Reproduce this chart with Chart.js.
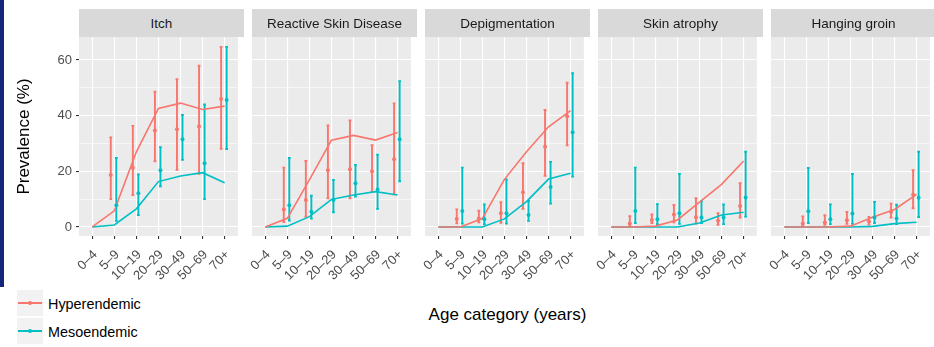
<!DOCTYPE html>
<html>
<head>
<meta charset="utf-8">
<script src="https://cdn.jsdelivr.net/npm/chart.js@4.4.1/dist/chart.umd.min.js"></script>
<style>
  html, body { margin: 0; padding: 0; }
  body { width: 934px; height: 347px; background: #ffffff; position: relative; overflow: hidden;
         font-family: "Liberation Sans", Arial, sans-serif; }
  .edge { position: absolute; left: 0; top: 0; width: 4px; height: 287px; background: #15257a; }
  .strip { position: absolute; top: 9px; height: 28px; width: 165px; background: #d9d9d9; color: #1a1a1a;
           font-size: 13.5px; display: flex; align-items: center; justify-content: center; white-space: nowrap; }
  canvas { position: absolute; top: 0; }
  .xtitle { position: absolute; left: 79px; width: 857px; top: 305px; text-align: center; font-size: 17px; color: #000; }
  .lkey { position: absolute; left: 17px; width: 26px; height: 26px; background: #f2f2f2; }
  .lkey .ln { position: absolute; left: 1px; right: 1px; top: 12.3px; height: 1.6px; }
  .lkey .dt { position: absolute; left: 11.3px; top: 11.3px; width: 3.8px; height: 3.8px; border-radius: 50%; }
  .ltext { position: absolute; left: 48px; font-size: 14.4px; color: #000; }
</style>
</head>
<body>
<div class="edge"></div>
<div id="wrap"></div>
<div class="xtitle">Age category (years)</div>
<div class="lkey" style="top:290px"><div class="ln" style="background:#F8766D"></div><div class="dt" style="background:#F8766D"></div></div>
<div class="ltext" style="top:296px">Hyperendemic</div>
<div class="lkey" style="top:318px"><div class="ln" style="background:#00BFC4"></div><div class="dt" style="background:#00BFC4"></div></div>
<div class="ltext" style="top:324px">Mesoendemic</div>
<script>
// ---------- DATA ----------
const categories = ['0–4', '5–9', '10–19', '20–29', '30–49', '50–69', '70+'];
const panelTitles = ['Itch', 'Reactive Skin Disease', 'Depigmentation', 'Skin atrophy', 'Hanging groin'];
const seriesNames = ['Hyperendemic', 'Mesoendemic'];
const yTickValues = [0, 20, 40, 60];

// Itch
const itchHyperFit = [0, 5.8, 27.0, 42.6, 44.5, 42.2, 43.4];
const itchMesoFit  = [0, 0.7, 6.5, 16.3, 18.3, 19.5, 15.9];
const itchHyperObs = [null, 18.7, 21.3, 34.7, 35.1, 36.1, 46.0];
const itchHyperLo  = [null, 10.0, 11.5, 23.6, 20.5, 19.1, 28.1];
const itchHyperHi  = [null, 32.2, 36.3, 48.6, 53.1, 57.9, 64.7];
const itchMesoObs  = [null, 7.8, 12.1, 20.4, 31.5, 22.9, 45.6];
const itchMesoLo   = [null, 2.2, 4.3, 14.6, 24.1, 10.0, 28.0];
const itchMesoHi   = [null, 24.8, 18.9, 28.7, 40.2, 44.0, 64.7];

// Reactive Skin Disease
const rsdHyperFit = [0, 3.1, 16.9, 31.2, 32.9, 31.2, 33.9];
const rsdMesoFit  = [0, 0.3, 3.7, 9.9, 11.5, 12.7, 11.5];
const rsdHyperObs = [null, 6.3, 9.7, 20.4, 20.7, 20.0, 24.3];
const rsdHyperLo  = [null, 1.8, 3.7, 10.3, 10.3, 12.7, 11.7];
const rsdHyperHi  = [null, 21.3, 23.7, 36.5, 38.3, 29.4, 44.4];
const rsdMesoObs  = [null, 7.8, 5.5, 9.7, 15.7, 13.5, 31.5];
const rsdMesoLo   = [null, 2.3, 3.0, 5.3, 10.9, 6.5, 16.4];
const rsdMesoHi   = [null, 24.8, 11.2, 16.9, 22.3, 26.0, 52.4];

// Depigmentation
const depHyperFit = [0, 0, 3.0, 17.1, 27.0, 36.0, 41.8];
const depMesoFit  = [0, 0, 0, 2.9, 9.1, 17.2, 19.3];
const depHyperObs = [null, 2.9, 3.0, 4.9, 12.5, 28.8, 39.8];
const depHyperLo  = [null, 1.3, 1.7, 1.5, 6.5, 18.4, 29.3];
const depHyperHi  = [null, 6.3, 5.8, 8.9, 22.9, 42.0, 51.8];
const depMesoObs  = [null, 5.7, 2.8, 4.9, 4.3, 14.4, 34.0];
const depMesoLo   = [null, 1.2, 1.0, 1.2, 2.2, 8.4, 18.1];
const depMesoHi   = [null, 21.3, 8.1, 17.1, 9.3, 23.4, 55.2];

// Skin atrophy
const atrHyperFit = [0, 0, 0.3, 2.5, 8.9, 15.3, 23.7];
const atrMesoFit  = [0, 0, 0, 0, 1.4, 4.3, 5.3];
const atrHyperObs = [null, 1.2, 2.5, 4.5, 3.5, 2.2, 7.5];
const atrHyperLo  = [null, 0.4, 1.4, 1.7, 1.2, 0.8, 3.4];
const atrHyperHi  = [null, 3.9, 4.5, 7.9, 10.3, 4.9, 15.7];
const atrMesoObs  = [null, 5.7, 2.8, 4.9, 3.4, 3.4, 10.6];
const atrMesoLo   = [null, 1.4, 1.0, 1.1, 1.4, 1.0, 3.7];
const atrMesoHi   = [null, 21.3, 8.2, 19.0, 9.3, 8.1, 27.0];

// Hanging groin
const hgHyperFit = [0, 0, 0, 0.3, 3.5, 6.3, 11.7];
const hgMesoFit  = [0, 0, 0, 0, 0.2, 1.2, 1.7];
const hgHyperObs = [null, 1.2, 1.6, 2.4, 2.0, 5.4, 11.6];
const hgHyperLo  = [null, 0.4, 0.8, 1.1, 0.9, 3.4, 6.7];
const hgHyperHi  = [null, 3.8, 4.2, 5.4, 3.6, 8.4, 20.4];
const hgMesoObs  = [null, 5.6, 2.8, 4.8, 3.4, 3.0, 10.5];
const hgMesoLo   = [null, 1.4, 1.0, 1.1, 1.4, 1.0, 3.6];
const hgMesoHi   = [null, 21.2, 8.1, 19.0, 9.0, 8.0, 27.0];

// ---------- TABLE BUILT FROM THE ARRAYS ----------
const panels = [
  { title: panelTitles[0], hyperFit: itchHyperFit, mesoFit: itchMesoFit, hyperObs: itchHyperObs, hyperLo: itchHyperLo, hyperHi: itchHyperHi, mesoObs: itchMesoObs, mesoLo: itchMesoLo, mesoHi: itchMesoHi },
  { title: panelTitles[1], hyperFit: rsdHyperFit, mesoFit: rsdMesoFit, hyperObs: rsdHyperObs, hyperLo: rsdHyperLo, hyperHi: rsdHyperHi, mesoObs: rsdMesoObs, mesoLo: rsdMesoLo, mesoHi: rsdMesoHi },
  { title: panelTitles[2], hyperFit: depHyperFit, mesoFit: depMesoFit, hyperObs: depHyperObs, hyperLo: depHyperLo, hyperHi: depHyperHi, mesoObs: depMesoObs, mesoLo: depMesoLo, mesoHi: depMesoHi },
  { title: panelTitles[3], hyperFit: atrHyperFit, mesoFit: atrMesoFit, hyperObs: atrHyperObs, hyperLo: atrHyperLo, hyperHi: atrHyperHi, mesoObs: atrMesoObs, mesoLo: atrMesoLo, mesoHi: atrMesoHi },
  { title: panelTitles[4], hyperFit: hgHyperFit, mesoFit: hgMesoFit, hyperObs: hgHyperObs, hyperLo: hgHyperLo, hyperHi: hgHyperHi, mesoObs: hgMesoObs, mesoLo: hgMesoLo, mesoHi: hgMesoHi }
];

// ---------- STYLE / LAYOUT ----------
const RED = '#F8766D', CYAN = '#00BFC4';
const PANEL_LEFT0 = 79, PANEL_STEP = 173, PANEL_W = 165;
const TOP = 37, XAXIS_H = 54, CANVAS_H = 290;
const DODGE_HYPER = -0.16, DODGE_MESO = 0.09;

const panelBg = {
  id: 'panelBg',
  beforeDraw(chart) {
    const a = chart.chartArea, ctx = chart.ctx;
    ctx.save(); ctx.fillStyle = '#EBEBEB';
    ctx.fillRect(a.left, a.top, a.right - a.left, a.bottom - a.top);
    ctx.restore();
  }
};
const errorBars = {
  id: 'errorBars',
  beforeDatasetsDraw(chart) {
    const ctx = chart.ctx, xs = chart.scales.x, ys = chart.scales.y;
    chart.data.datasets.forEach(ds => {
      if (!ds.errLo) return;
      ctx.save();
      ctx.strokeStyle = ds.borderColor; ctx.lineWidth = 1.9; ctx.lineCap = 'butt';
      ds.data.forEach((p, i) => {
        if (p.y == null) return;
        const px = xs.getPixelForValue(p.x);
        const lo = ys.getPixelForValue(ds.errLo[i]), hi = ys.getPixelForValue(ds.errHi[i]);
        ctx.beginPath();
        ctx.moveTo(px, lo); ctx.lineTo(px, hi);
        ctx.moveTo(px - 1.4, lo); ctx.lineTo(px + 1.4, lo);
        ctx.moveTo(px - 1.4, hi); ctx.lineTo(px + 1.4, hi);
        ctx.stroke();
      });
      ctx.restore();
    });
  }
};

const wrap = document.getElementById('wrap');
panels.forEach((p, i) => {
  const first = i === 0;
  const plotLeft = PANEL_LEFT0 + PANEL_STEP * i;
  const yW = first ? 79 : 30;
  const canvasLeft = plotLeft - yW;

  const strip = document.createElement('div');
  strip.className = 'strip';
  strip.style.left = plotLeft + 'px';
  strip.textContent = p.title;
  document.body.appendChild(strip);

  const cv = document.createElement('canvas');
  cv.width = yW + PANEL_W; cv.height = CANVAS_H;
  cv.style.left = canvasLeft + 'px';
  cv.style.width = (yW + PANEL_W) + 'px'; cv.style.height = CANVAS_H + 'px';
  wrap.appendChild(cv);

  const fitLine = (arr, color, name) => ({
    type: 'line', label: name, data: arr.map((v, k) => ({ x: k + 1, y: v })),
    borderColor: color, backgroundColor: color, borderWidth: 1.6, pointRadius: 0, tension: 0, fill: false
  });
  const obs = (arr, lo, hi, color, dodge, name) => ({
    type: 'line', label: name + ' observed', showLine: false,
    data: arr.map((v, k) => ({ x: k + 1 + dodge, y: v })),
    errLo: lo, errHi: hi,
    borderColor: color, backgroundColor: color, pointBackgroundColor: color,
    pointBorderWidth: 0, pointRadius: 2
  });

  new Chart(cv, {
    type: 'line',
    data: {
      datasets: [
        obs(p.hyperObs, p.hyperLo, p.hyperHi, RED, DODGE_HYPER, seriesNames[0]),
        obs(p.mesoObs, p.mesoLo, p.mesoHi, CYAN, DODGE_MESO, seriesNames[1]),
        fitLine(p.hyperFit, RED, seriesNames[0]),
        fitLine(p.mesoFit, CYAN, seriesNames[1])
      ]
    },
    options: {
      responsive: false, animation: false, devicePixelRatio: 1,
      layout: { padding: { top: TOP, left: 0, right: 0, bottom: 0 } },
      plugins: { legend: { display: false }, tooltip: { enabled: false }, title: { display: false } },
      scales: {
        x: {
          type: 'linear', min: 0.4, max: 7.6,
          afterBuildTicks: s => { s.ticks = categories.map((c, k) => ({ value: k + 1 })); },
          afterFit: s => { s.height = XAXIS_H; },
          ticks: { autoSkip: false, minRotation: 45, maxRotation: 45, color: '#4d4d4d',
                   font: { size: 13, family: '"Liberation Sans", Arial, sans-serif' }, padding: 8, labelOffset: 3,
                   callback: v => categories[Math.round(v) - 1] },
          grid: { color: '#ffffff', lineWidth: 1.1, tickColor: '#333333', tickLength: 3, tickWidth: 1.1 },
          border: { display: false }
        },
        y: {
          type: 'linear', min: -3.25, max: 68.25,
          afterBuildTicks: s => { s.ticks = [0, 10, 20, 30, 40, 50, 60].map(v => ({ value: v })); },
          afterFit: s => { s.width = yW; },
          ticks: { display: first, color: '#4d4d4d', padding: 4,
                   font: { size: 13, family: '"Liberation Sans", Arial, sans-serif' },
                   callback: v => yTickValues.includes(v) ? String(v) : '' },
          grid: {
            color: '#ffffff',
            lineWidth: c => (c.tick && yTickValues.includes(c.tick.value)) ? 1.1 : 0.55,
            drawTicks: first, tickLength: 3, tickWidth: 1.1,
            tickColor: c => (c.tick && yTickValues.includes(c.tick.value)) ? '#333333' : 'rgba(0,0,0,0)'
          },
          border: { display: false },
          title: { display: first, text: 'Prevalence (%)', color: '#000000',
                   font: { size: 17, family: '"Liberation Sans", Arial, sans-serif' },
                   padding: { top: 14, bottom: 0 } }
        }
      }
    },
    plugins: [panelBg, errorBars]
  });
});
</script>
</body>
</html>
